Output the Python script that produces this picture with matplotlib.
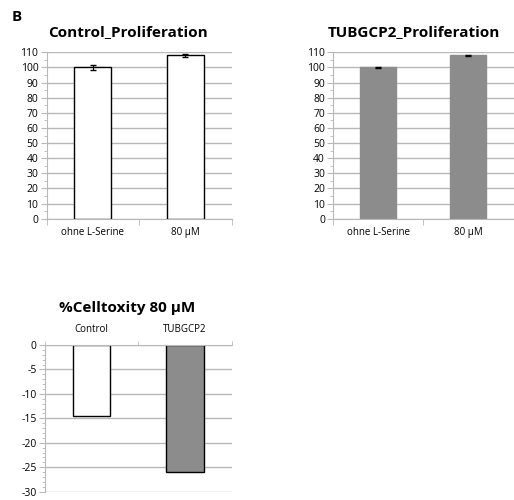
import matplotlib.pyplot as plt
from matplotlib.ticker import MultipleLocator

plt.rcParams['font.family'] = ['Open Sans', 'DejaVu Sans']
plt.rcParams['axes.unicode_minus'] = False

prolif_labels = ['ohne L-Serine', '80 µM']
control_vals = [100, 108]
control_err = [1.5, 1.0]
tubgcp2_vals = [100, 108]
tubgcp2_err = [0.3, 0.5]

tox_labels = ['Control', 'TUBGCP2']
tox_vals = [-14.5, -26]

grid_col = '#b8b8b8'
grey_bar = '#8c8c8c'

fig = plt.figure(figsize=(5.14, 5.0), dpi=100)
W, H = 514.0, 500.0


def px_axes(x0, y0, x1, y1):
    return fig.add_axes([x0 / W, 1 - y1 / H, (x1 - x0) / W, (y1 - y0) / H])


def style(ax, ymin, ymax, major, minor):
    ax.set_ylim(ymin, ymax)
    ax.yaxis.set_major_locator(MultipleLocator(major))
    ax.yaxis.set_minor_locator(MultipleLocator(minor))
    ax.grid(axis='y', color=grid_col, lw=1.0)
    ax.set_axisbelow(True)
    for s in ['top', 'right']:
        ax.spines[s].set_visible(False)
    for s in ['left', 'bottom']:
        ax.spines[s].set_color(grid_col)
    ax.tick_params(axis='y', which='major', length=4, color=grid_col, labelsize=7.5, pad=2)
    ax.tick_params(axis='y', which='minor', length=2, color=grid_col)
    ax.tick_params(axis='x', which='major', length=0, labelsize=7, pad=6)
    ax.set_xticks([-0.5, 0.5, 1.5], minor=True)
    ax.tick_params(axis='x', which='minor', length=4, color=grid_col)


# Control proliferation
ax1 = px_axes(46.7, 52.3, 231.7, 218.7)
ax1.bar([0, 1], control_vals, width=0.4, color='white', edgecolor='black', lw=1)
ax1.errorbar([0, 1], control_vals, yerr=control_err, fmt='none', ecolor='black',
             elinewidth=0.8, capsize=2.5)
ax1.set_xlim(-0.5, 1.5)
style(ax1, 0, 110, 10, 5)
ax1.set_xticks([0, 1])
ax1.set_xticklabels(prolif_labels)
ax1.set_title('Control_Proliferation', fontsize=11, fontweight='bold', pad=12, x=0.44)

# TUBGCP2 proliferation
ax2 = px_axes(333.3, 52.3, 513.5, 218.7)
ax2.bar([0, 1], tubgcp2_vals, width=0.4, color=grey_bar, edgecolor=grey_bar, lw=1)
ax2.errorbar([0, 1], tubgcp2_vals, yerr=tubgcp2_err, fmt='none', ecolor='black',
             elinewidth=0.8, capsize=2.5)
ax2.set_xlim(-0.5, 1.45)
style(ax2, 0, 110, 10, 5)
ax2.set_xticks([0, 1])
ax2.set_xticklabels(prolif_labels)
ax2.set_title('TUBGCP2_Proliferation', fontsize=11, fontweight='bold', pad=12, x=0.45)

# % cell toxicity
ax3 = px_axes(45, 345, 231.7, 491.7)
ax3.bar([0, 1], tox_vals, width=0.4, color=['white', grey_bar], edgecolor='black', lw=1)
ax3.set_xlim(-0.5, 1.5)
style(ax3, -30, 0, 5, 1)
ax3.set_xticks([0, 1])
ax3.set_xticklabels(tox_labels)
ax3.xaxis.tick_top()
ax3.tick_params(axis='x', which='major', length=0, labelsize=7, pad=7)
ax3.tick_params(axis='x', which='minor', top=True, bottom=False, length=3, color=grid_col)
ax3.spines['top'].set_visible(True)
ax3.spines['top'].set_color(grid_col)
ax3.spines['bottom'].set_visible(False)
ax3.set_title('%Celltoxity 80 µM', fontsize=11, fontweight='bold', pad=24, x=0.44)

fig.text(12 / W, 1 - 17 / H, 'B', fontsize=11, fontweight='bold', va='center')

fig.savefig('out.png', dpi=100)
